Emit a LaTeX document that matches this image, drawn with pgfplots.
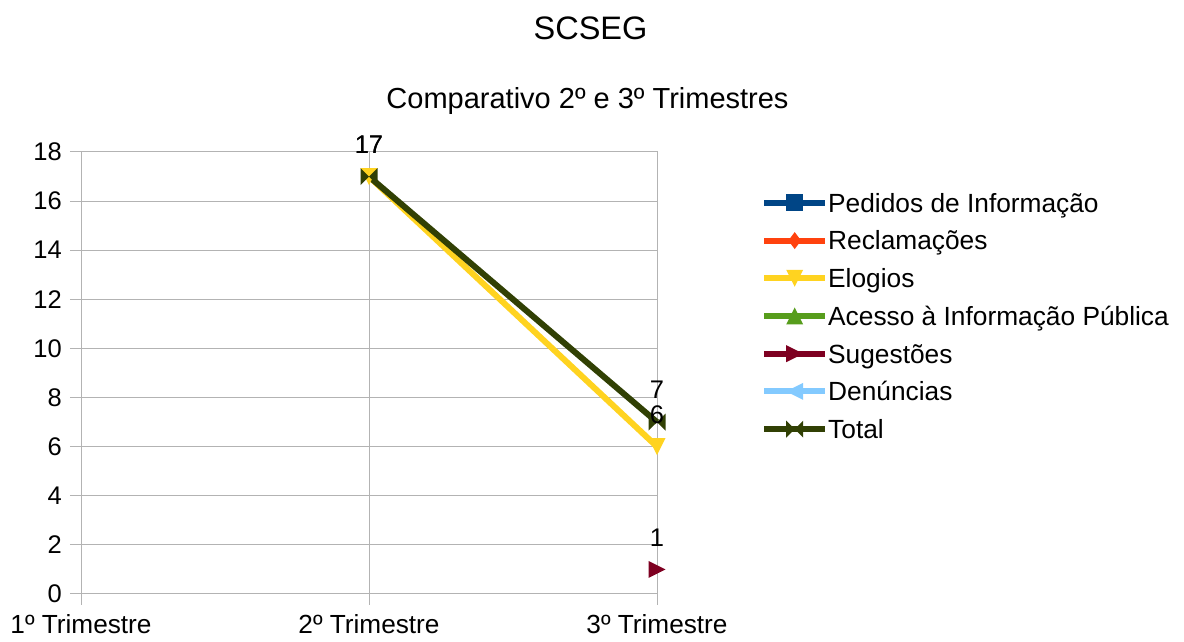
\documentclass[border=0pt]{standalone}
\usepackage{fontspec}
\setmainfont{Liberation Sans}
\usepackage{pgfplots}
\pgfplotsset{compat=1.18}

\definecolor{cPed}{HTML}{004586}
\definecolor{cRec}{HTML}{FF420E}
\definecolor{cElo}{HTML}{FFD320}
\definecolor{cAce}{HTML}{579D1C}
\definecolor{cSug}{HTML}{7E0021}
\definecolor{cDen}{HTML}{83CAFF}
\definecolor{cTot}{HTML}{314004}
\definecolor{cGrid}{HTML}{B3B3B3}

\pgfdeclareplotmark{lsq}{%
  \pgfpathrectanglecorners{\pgfqpoint{-\pgfplotmarksize}{-\pgfplotmarksize}}{\pgfqpoint{\pgfplotmarksize}{\pgfplotmarksize}}%
  \pgfusepathqfill}
\pgfdeclareplotmark{ldia}{%
  \pgfpathmoveto{\pgfqpoint{0pt}{\pgfplotmarksize}}%
  \pgfpathlineto{\pgfqpoint{0.75\pgfplotmarksize}{0pt}}%
  \pgfpathlineto{\pgfqpoint{0pt}{-\pgfplotmarksize}}%
  \pgfpathlineto{\pgfqpoint{-0.75\pgfplotmarksize}{0pt}}%
  \pgfpathclose\pgfusepathqfill}
\pgfdeclareplotmark{ldown}{%
  \pgfpathmoveto{\pgfqpoint{-\pgfplotmarksize}{\pgfplotmarksize}}%
  \pgfpathlineto{\pgfqpoint{\pgfplotmarksize}{\pgfplotmarksize}}%
  \pgfpathlineto{\pgfqpoint{0pt}{-\pgfplotmarksize}}%
  \pgfpathclose\pgfusepathqfill}
\pgfdeclareplotmark{lup}{%
  \pgfpathmoveto{\pgfqpoint{-\pgfplotmarksize}{-\pgfplotmarksize}}%
  \pgfpathlineto{\pgfqpoint{\pgfplotmarksize}{-\pgfplotmarksize}}%
  \pgfpathlineto{\pgfqpoint{0pt}{\pgfplotmarksize}}%
  \pgfpathclose\pgfusepathqfill}
\pgfdeclareplotmark{lright}{%
  \pgfpathmoveto{\pgfqpoint{-\pgfplotmarksize}{\pgfplotmarksize}}%
  \pgfpathlineto{\pgfqpoint{-\pgfplotmarksize}{-\pgfplotmarksize}}%
  \pgfpathlineto{\pgfqpoint{\pgfplotmarksize}{0pt}}%
  \pgfpathclose\pgfusepathqfill}
\pgfdeclareplotmark{lleft}{%
  \pgfpathmoveto{\pgfqpoint{\pgfplotmarksize}{\pgfplotmarksize}}%
  \pgfpathlineto{\pgfqpoint{\pgfplotmarksize}{-\pgfplotmarksize}}%
  \pgfpathlineto{\pgfqpoint{-\pgfplotmarksize}{0pt}}%
  \pgfpathclose\pgfusepathqfill}
\pgfdeclareplotmark{lbow}{%
  \pgfpathmoveto{\pgfqpoint{-\pgfplotmarksize}{\pgfplotmarksize}}%
  \pgfpathlineto{\pgfqpoint{-\pgfplotmarksize}{-\pgfplotmarksize}}%
  \pgfpathlineto{\pgfqpoint{0pt}{0pt}}%
  \pgfpathclose
  \pgfpathmoveto{\pgfqpoint{\pgfplotmarksize}{\pgfplotmarksize}}%
  \pgfpathlineto{\pgfqpoint{\pgfplotmarksize}{-\pgfplotmarksize}}%
  \pgfpathlineto{\pgfqpoint{0pt}{0pt}}%
  \pgfpathclose\pgfusepathqfill}

\newcommand{\tickfont}{\fontsize{25.5}{30}\selectfont}
\newcommand{\xfont}{\fontsize{26.2}{31}\selectfont}

\begin{document}
\begin{tikzpicture}
\useasboundingbox (0pt,0pt) rectangle (1184pt,642pt);
\node[anchor=base,font=\fontsize{32.5}{38}\selectfont] at (590.5pt,602pt) {SCSEG};
\node[anchor=base,font=\fontsize{29}{34}\selectfont] at (587.5pt,533pt) {Comparativo 2º e 3º Trimestres};
\begin{axis}[
  at={(81pt,48pt)}, anchor=south west,
  scale only axis, width=576pt, height=442pt,
  xmin=0, xmax=2, ymin=0, ymax=18,
  xtick={0,1,2},
  xticklabels={1º Trimestre,2º Trimestre,3º Trimestre},
  ytick={0,2,...,18},
  /pgf/number format/assume math mode=true,
  yticklabel style={font=\tickfont},
  xticklabel style={font=\xfont, anchor=north, inner sep=0pt, yshift=-9.5pt},
  yticklabel style={anchor=east, inner sep=0pt, xshift=-8pt},
  xmajorgrids, ymajorgrids,
  grid style={cGrid, line width=1pt},
  axis line style={cGrid, line width=1pt},
  tick style={cGrid, line width=1pt},
  major tick length=11pt,
  tick align=outside,
  tick pos=left,
  clip=false,
  mark size=8.5pt,
  every axis plot/.append style={line width=6pt},
  legend image code/.code={\draw[mark repeat=2,mark phase=2,#1] plot coordinates {(0pt,0pt) (30.5pt,0pt) (61pt,0pt)};},
  legend cell align=left,
  legend style={at={(1.18056,0.62896)}, anchor=west, draw=none, fill=none,
    inner sep=0pt, row sep=18.9pt, font=\fontsize{26.3}{31}\selectfont,
    nodes={inner sep=0pt, text height=18.8pt, text depth=0pt}},
  legend style={/tikz/every odd column/.append style={column sep=0pt}},
  every node near coord/.append style={font=\tickfont, anchor=center, yshift=32pt, inner sep=0pt, black},
]
\addlegendimage{cPed, mark=lsq}
\addlegendentry{Pedidos de Informação}
\addlegendimage{cRec, mark=ldia}
\addlegendentry{Reclamações}
\addplot[cElo, mark=ldown] coordinates {(1,17) (2,6)};
\addlegendentry{Elogios}
\addlegendimage{cAce, mark=lup}
\addlegendentry{Acesso à Informação Pública}
\addplot[cSug, mark=lright] coordinates {(2,1)};
\addlegendentry{Sugestões}
\addlegendimage{cDen, mark=lleft}
\addlegendentry{Denúncias}
\addplot[cTot, mark=lbow] coordinates {(1,17) (2,7)};
\addlegendentry{Total}
% data labels drawn on top
\addplot[draw=none, mark=none, nodes near coords, forget plot] coordinates {(1,17) (2,6)};
\addplot[draw=none, mark=none, nodes near coords, forget plot] coordinates {(2,1)};
\addplot[draw=none, mark=none, nodes near coords, forget plot] coordinates {(1,17) (2,7)};
\end{axis}
\end{tikzpicture}
\end{document}
